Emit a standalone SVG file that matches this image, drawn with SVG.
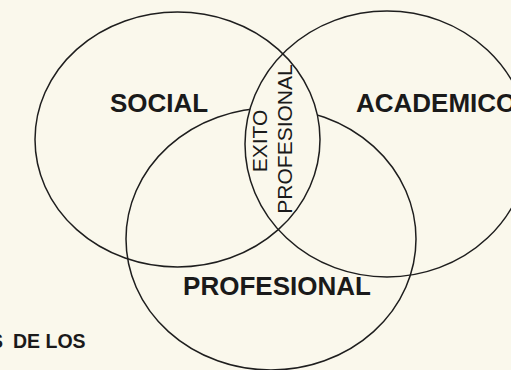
<svg xmlns="http://www.w3.org/2000/svg" width="511" height="370" viewBox="0 0 511 370">
<style>
.c{fill:none;stroke:#1e1e1e;stroke-width:1.5}
.b{font-family:"Liberation Sans",Arial,sans-serif;font-weight:bold;font-size:26px;fill:#1a1a1a}
.r{font-family:"Liberation Sans",Arial,sans-serif;font-size:21px;fill:#1a1a1a}
</style>
<defs>
<clipPath id="socClip"><ellipse cx="177.5" cy="139.5" rx="142.5" ry="127.5"/></clipPath>
</defs>
<rect width="511" height="370" fill="#faf8ec"/>
<g id="profesional">
<ellipse class="c" cx="271" cy="239" rx="145" ry="131"/>
<text class="b" x="277" y="295" text-anchor="middle">PROFESIONAL</text>
</g>
<g id="exito">
<ellipse cx="387" cy="144" rx="142" ry="133" fill="#faf8ec" clip-path="url(#socClip)"/>
<text class="r" transform="translate(267,141) rotate(-90)" text-anchor="middle">EXITO</text>
<text class="r" transform="translate(292,139) rotate(-90)" text-anchor="middle">PROFESIONAL</text>
</g>
<g id="social">
<ellipse class="c" cx="177.5" cy="139.5" rx="142.5" ry="127.5"/>
<text class="b" x="110" y="112">SOCIAL</text>
</g>
<g id="academico">
<ellipse class="c" cx="387" cy="144" rx="142" ry="133"/>
<text class="b" x="356" y="112">ACADEMICO</text>
</g>
<g id="caption">
<text class="b" x="-10" y="348" style="font-size:19.5px">S <tspan x="13">DE LOS</tspan></text>
</g>
<g id="connectors"/>
</svg>
